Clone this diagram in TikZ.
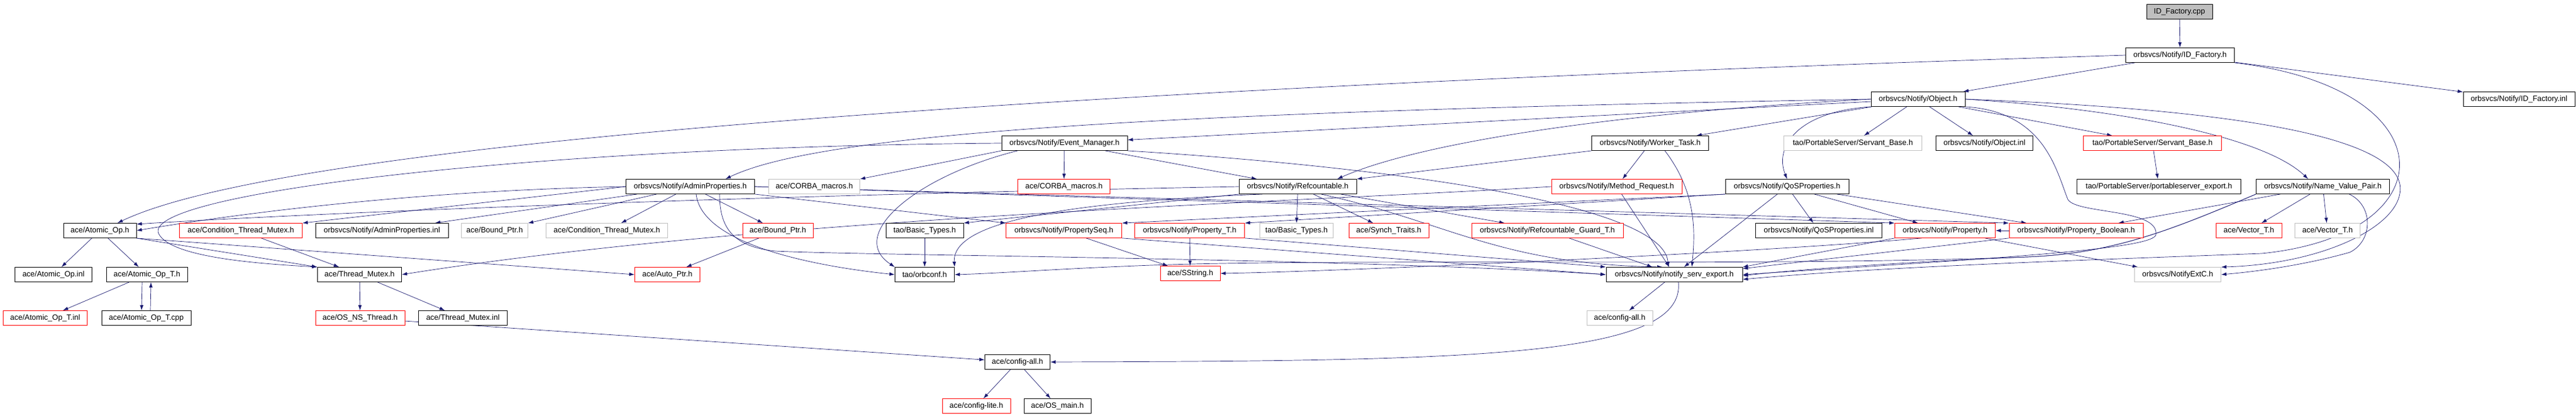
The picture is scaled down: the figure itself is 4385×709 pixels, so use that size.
\documentclass[tikz,border=0pt]{standalone}
\usepackage{fontspec}
\setmainfont{Liberation Sans}
\usepackage{tikz}
\usetikzlibrary{arrows.meta}
\pgfdeclarelayer{background}
\pgfsetlayers{background,main}
\definecolor{edgeblue}{HTML}{191970}
\definecolor{nodocgray}{HTML}{BFBFBF}

\begin{document}
\begin{tikzpicture}[x=1pt, y=-1pt,
    hfile/.style={draw, fill=white, line width=0.9pt, minimum height=25pt, inner sep=0pt,
      font=\fontsize{13}{15}\selectfont},
    hred/.style={hfile, draw=red, line width=0.7pt},
    hgray/.style={hfile, draw=nodocgray, line width=0.7pt},
    incl/.style={draw=edgeblue, line width=0.7pt, -{Latex[length=9pt,width=6pt]}}]
  \useasboundingbox (0,0) rectangle (4385,709);

  \node[hfile, fill=nodocgray, minimum width=112] (idcpp) at (3710,20) {ID\_Factory.cpp};
  \node[hfile, minimum width=185] (idh) at (3711,94) {orbsvcs/Notify/ID\_Factory.h};
  \node[hfile, minimum width=160] (obj) at (3265,169) {orbsvcs/Notify/Object.h};
  \node[hfile, minimum width=190] (idinl) at (4288,169) {orbsvcs/Notify/ID\_Factory.inl};

  \node[hfile, minimum width=214] (evm) at (1812,244) {orbsvcs/Notify/Event\_Manager.h};
  \node[hfile, minimum width=199] (worker) at (2809,244) {orbsvcs/Notify/Worker\_Task.h};
  \node[hgray, minimum width=235] (sbgray) at (3154,244) {tao/PortableServer/Servant\_Base.h};
  \node[hfile, minimum width=165] (objinl) at (3378,244) {orbsvcs/Notify/Object.inl};
  \node[hred, minimum width=235] (sbred) at (3664,244) {tao/PortableServer/Servant\_Base.h};

  \node[hfile, minimum width=219] (admin) at (1175,318) {orbsvcs/Notify/AdminProperties.h};
  \node[hgray, minimum width=155] (corbagray) at (1386,318) {ace/CORBA\_macros.h};
  \node[hred, minimum width=157] (corbared) at (1811,318) {ace/CORBA\_macros.h};
  \node[hfile, minimum width=200] (refc) at (2209,318) {orbsvcs/Notify/Refcountable.h};
  \node[hred, minimum width=222] (mreq) at (2752,318) {orbsvcs/Notify/Method\_Request.h};
  \node[hfile, minimum width=210] (qos) at (3042,318) {orbsvcs/Notify/QoSProperties.h};
  \node[hfile, minimum width=279] (pse) at (3675,318) {tao/PortableServer/portableserver\_export.h};
  \node[hfile, minimum width=227] (nvp) at (3954,318) {orbsvcs/Notify/Name\_Value\_Pair.h};

  \node[hfile, minimum width=124] (atomic) at (170,393) {ace/Atomic\_Op.h};
  \node[hred, minimum width=209] (condred) at (410,393) {ace/Condition\_Thread\_Mutex.h};
  \node[hfile, minimum width=226] (admininl) at (650,393) {orbsvcs/Notify/AdminProperties.inl};
  \node[hgray, minimum width=113] (boundgray) at (842,393) {ace/Bound\_Ptr.h};
  \node[hgray, minimum width=207] (condgray) at (1033,393) {ace/Condition\_Thread\_Mutex.h};
  \node[hred, minimum width=120] (boundred) at (1324,393) {ace/Bound\_Ptr.h};
  \node[hfile, minimum width=132] (basicblk) at (1574,393) {tao/Basic\_Types.h};
  \node[hred, minimum width=197] (propseq) at (1811,393) {orbsvcs/Notify/PropertySeq.h};
  \node[hred, minimum width=187] (propt) at (2025,393) {orbsvcs/Notify/Property\_T.h};
  \node[hgray, minimum width=125] (basicgray) at (2207,393) {tao/Basic\_Types.h};
  \node[hred, minimum width=136] (synch) at (2364,393) {ace/Synch\_Traits.h};
  \node[hred, minimum width=258] (guard) at (2634,393) {orbsvcs/Notify/Refcountable\_Guard\_T.h};
  \node[hfile, minimum width=215] (qosinl) at (3096,393) {orbsvcs/Notify/QoSProperties.inl};
  \node[hred, minimum width=171] (prop) at (3311,393) {orbsvcs/Notify/Property.h};
  \node[hred, minimum width=228] (propbool) at (3534,393) {orbsvcs/Notify/Property\_Boolean.h};
  \node[hred, minimum width=112] (vecred) at (3828,393) {ace/Vector\_T.h};
  \node[hgray, minimum width=111] (vecgray) at (3962,393) {ace/Vector\_T.h};

  \node[hfile, minimum width=131] (atomicinl) at (91,468) {ace/Atomic\_Op.inl};
  \node[hfile, minimum width=138] (atomict) at (250,468) {ace/Atomic\_Op\_T.h};
  \node[hfile, minimum width=143] (tmutex) at (612,468) {ace/Thread\_Mutex.h};
  \node[hred, minimum width=111] (autoptr) at (1136,468) {ace/Auto\_Ptr.h};
  \node[hfile, minimum width=101] (orbconf) at (1574,468) {tao/orbconf.h};
  \node[hred, minimum width=102] (sstring) at (2026,466) {ace/SString.h};
  \node[hfile, minimum width=232] (nse) at (2850,468) {orbsvcs/Notify/notify\_serv\_export.h};
  \node[hgray, minimum width=147] (extc) at (3707,468) {orbsvcs/NotifyExtC.h};

  \node[hred, minimum width=143] (atomictinl) at (77,542) {ace/Atomic\_Op\_T.inl};
  \node[hfile, minimum width=152] (atomictcpp) at (249,542) {ace/Atomic\_Op\_T.cpp};
  \node[hred, minimum width=152] (osns) at (613,542) {ace/OS\_NS\_Thread.h};
  \node[hfile, minimum width=151] (tmutexinl) at (788,542) {ace/Thread\_Mutex.inl};
  \node[hgray, minimum width=112] (cfgallgray) at (2757,542) {ace/config-all.h};
  \node[hfile, minimum width=111] (cfgall) at (1732,617) {ace/config-all.h};
  \node[hred, minimum width=116] (cfglite) at (1662,692) {ace/config-lite.h};
  \node[hfile, minimum width=114] (osmain) at (1800,692) {ace/OS\_main.h};

  \begin{pgfonlayer}{background}
    \draw[incl] (idcpp) -- (idh);
    \draw[incl] (idh) -- (obj);
    \draw[incl] (idh) -- (idinl);
    \draw[incl] (idh.west) .. controls (1500,160) and (450,260) .. ([xshift=30pt]atomic.north);
    \draw[incl] (idh.south east) .. controls (4170,150) and (4170,400) .. (3850,432)
      .. controls (3500,445) and (3200,455) .. (nse.-4);

    \draw[incl] (obj) -- (evm);
    \draw[incl] (obj.west) .. controls (2000,190) and (1400,225) .. ([xshift=60pt]admin.north);
    \draw[incl] (obj.west) .. controls (2700,195) and (2400,250) .. ([xshift=-33pt]refc.north east);
    \draw[incl] (obj) -- (worker);
    \draw[incl] (obj.south west) .. controls (3060,190) and (3020,250) .. (qos.north);
    \draw[incl] (obj) -- (sbgray);
    \draw[incl] (obj) -- (objinl);
    \draw[incl] (obj) -- (sbred);
    \draw[incl] (obj.east) .. controls (3600,185) and (3850,230) .. ([xshift=-25pt]nvp.north);
    \draw[incl] (obj.east) .. controls (3900,190) and (4100,250) .. (4085,330)
      .. controls (4075,390) and (3950,450) .. (extc.north east);
    \draw[incl] (obj.south east) .. controls (3480,190) and (3500,290) .. (3520,340)
      .. controls (3535,365) and (3675,355) .. (3670,400)
      .. controls (3665,425) and (3400,440) .. (nse.east);

    \draw[incl] (evm) -- (corbared);
    \draw[incl] (evm.south west) -- (corbagray.north east);
    \draw[incl] (evm) -- (refc);
    \draw[incl] ([xshift=-80pt]evm.south) .. controls (1560,300) and (1440,400) .. (orbconf.north west);
    \draw[incl] (evm.west) .. controls (900,250) and (240,330) .. (270,398)
      .. controls (290,440) and (450,450) .. (tmutex.north west);
    \draw[incl] (evm.south east) .. controls (2300,280) and (2830,340) .. ([xshift=-10pt]nse.north);

    \draw[incl] (worker.south west) -- (refc.north east);
    \draw[incl] (worker) -- (mreq);
    \draw[incl] ([xshift=25pt]worker.south) .. controls (2890,330) and (2885,400) .. ([xshift=30pt]nse.north);
    \draw[incl] (mreq.west) .. controls (2200,345) and (1300,370) .. (tmutex.east);
    \draw[incl] (mreq) -- (nse);
    \draw[incl] (sbred) -- (pse);

    \draw[incl] (refc.west) .. controls (1200,335) and (500,365) .. (atomic.10);
    \draw[incl] (refc.south west) -- (basicblk.north east);
    \draw[incl] (refc.south) -- (basicgray.north);
    \draw[incl] (refc) -- (synch);
    \draw[incl] (refc) -- (guard);
    \draw[incl] ([xshift=40pt]refc.south) .. controls (2470,380) and (2550,450) .. ([xshift=-20pt]nse.north);
    \draw[incl] ([xshift=40pt]refc.south west) .. controls (1800,345) and (1620,380) .. (orbconf.north east);

    \draw[incl] (admin.west) .. controls (700,325) and (400,365) .. (atomic.east);
    \draw[incl] (admin.west) -- (condred.north east);
    \draw[incl] (admin) -- (admininl);
    \draw[incl] (admin) -- (boundgray);
    \draw[incl] (admin) -- (condgray);
    \draw[incl] (admin) -- (boundred);
    \draw[incl] ([xshift=10pt]admin.south) .. controls (1195,420) and (1400,455) .. (orbconf.west);
    \draw[incl] (admin.south east) -- (propseq.north west);
    \draw[incl] (admin.east) -- (prop.north west);
    \draw[incl] (admin.east) -- (propbool.north west);
    \draw[incl] ([xshift=50pt]admin.south) .. controls (1225,380) and (1240,420) .. (1320,428)
      .. controls (1500,436) and (2300,440) .. (nse.west);

    \draw[incl] (qos.south west) -- (propseq.north east);
    \draw[incl] (qos.south west) -- (propt.north east);
    \draw[incl] (qos) -- (qosinl);
    \draw[incl] (qos) -- (prop);
    \draw[incl] (qos) -- (propbool);
    \draw[incl] (qos) -- (nse);

    \draw[incl] (nvp) -- (propbool);
    \draw[incl] (nvp) -- (vecred);
    \draw[incl] (nvp) -- (vecgray);
    \draw[incl] (nvp.south west) .. controls (3700,390) and (3600,432) .. (3450,438)
      .. controls (3250,446) and (3050,460) .. (nse.-1);
    \draw[incl] ([xshift=45pt]nvp.south) .. controls (4040,350) and (4040,410) .. (4000,430)
      .. controls (3930,450) and (3850,462) .. (extc.east);
    \draw[incl] (nvp.south west) .. controls (3700,390) and (3600,432) .. (3450,438)
      .. controls (3000,455) and (2300,440) .. (1960,452)
      .. controls (1800,458) and (1700,466) .. (orbconf.east);

    \draw[incl] (atomic) -- (atomicinl);
    \draw[incl] (atomic) -- (atomict);
    \draw[incl] (atomic.south east) -- (tmutex.north west);
    \draw[incl] (atomic.south east) -- (autoptr.west);
    \draw[incl] (atomict) -- (atomictinl);
    \draw[incl] ([xshift=-8pt]atomict.south) -- ([xshift=-8pt]atomictcpp.north);
    \draw[incl] ([xshift=7pt]atomictcpp.north) -- ([xshift=7pt]atomict.south);
    \draw[incl] (condred) -- (tmutex);
    \draw[incl] (boundred) -- (autoptr);
    \draw[incl] (basicblk) -- (orbconf);

    \draw[incl] (propseq) -- (sstring);
    \draw[incl] (propseq.south east) -- (nse.west);
    \draw[incl] (propt) -- (sstring);
    \draw[incl] (propt.south east) -- (nse.north west);
    \draw[incl] (guard) -- (nse);
    \draw[incl] (prop.south west) -- (nse.north east);
    \draw[incl] (prop) -- (extc);
    \draw[incl] ([xshift=-40pt]prop.south) .. controls (3000,430) and (2300,462) .. (sstring.east);
    \draw[incl] (propbool) -- (prop);
    \draw[incl] (propbool.south west) -- (nse.5);

    \draw[incl] (tmutex) -- (osns);
    \draw[incl] (tmutex) -- (tmutexinl);
    \draw[incl] (osns) -- (cfgall);
    \draw[incl] (nse) -- (cfgallgray);
    \draw[incl] ([xshift=7pt]nse.south) .. controls (2870,610) and (2500,615) .. (cfgall.east);
    \draw[incl] (cfgall) -- (cfglite);
    \draw[incl] (cfgall) -- (osmain);
  \end{pgfonlayer}
\end{tikzpicture}
\end{document}
